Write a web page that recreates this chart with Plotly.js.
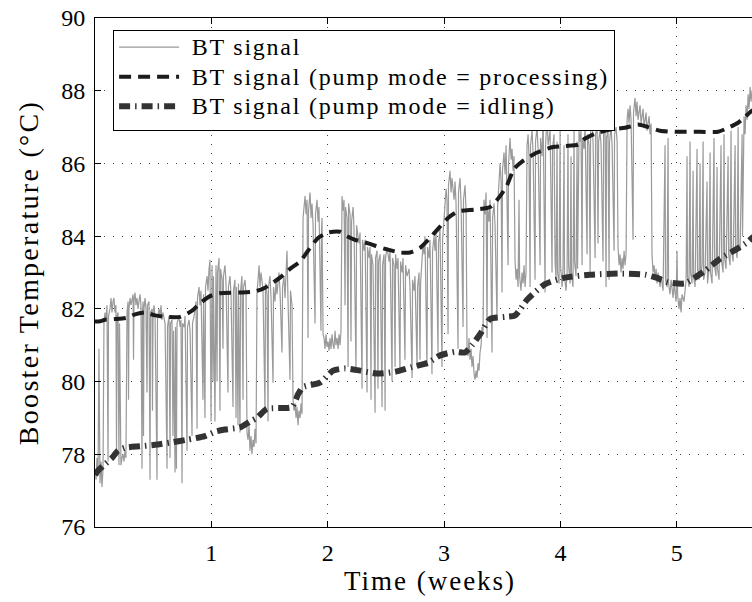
<!DOCTYPE html>
<html>
<head>
<meta charset="utf-8">
<script src="https://cdn.plot.ly/plotly-3.0.1.min.js"></script>
<style>
html, body { margin:0; padding:0; overflow:hidden; background:#fff; }
#chart { width:765px; height:602px; }
.legendtext { font-size: 24px !important; letter-spacing: 1.75px; transform: translateY(-4px); }
.legend .layers { transform: translateY(-4px); }
.xtitle { letter-spacing: 2px; }
.ytitle { letter-spacing: 2.3px; }
</style>
</head>
<body>
<div id="chart"></div>
<script>
// ---- Data (time in weeks, temperature in °C) ----
const seriesNames = ['\u00a0BT signal', '\u00a0BT signal (pump mode = processing)', '\u00a0BT signal (pump mode = idling)'];
const xTickVals = [1, 2, 3, 4, 5, 6];
const yTickVals = [76, 78, 80, 82, 84, 86, 88, 90];

// Raw BT signal, split per week: [week, °C]
const signalWeek0 = [[0.000,77.6],[0.009,77.3],[0.017,77.9],[0.026,77.4],[0.034,80.9],[0.039,77.5],[0.043,77.2],[0.052,77.8],[0.060,77.1],[0.069,77.6],[0.077,81.6],[0.086,81.9],[0.095,81.7],[0.103,82.1],[0.112,77.8],[0.116,81.8],[0.129,82.0],[0.138,82.3],[0.146,81.9],[0.155,82.2],[0.163,82.3],[0.172,81.9],[0.180,82.1],[0.185,77.95],[0.189,81.8],[0.198,81.9],[0.206,77.7],[0.211,81.6],[0.223,77.7],[0.232,77.9],[0.241,78.0],[0.249,77.8],[0.258,78.1],[0.266,77.9],[0.275,81.9],
[0.284,82.2],[0.288,79.5],[0.292,82.0],[0.301,82.3],[0.309,82.1],[0.327,82.4],[0.331,80.6],[0.335,82.2],[0.344,82.45],[0.352,82.1],[0.361,82.3],[0.370,82.0],[0.378,82.2],[0.387,82.4],[0.395,82.1],[0.404,77.6],[0.408,81.9],[0.413,82.2],[0.417,78.5],[0.421,82.0],[0.430,82.3],[0.438,82.0],[0.447,79.7],[0.451,82.1],[0.464,82.2],[0.473,77.3],[0.477,81.9],[0.490,82.0],[0.494,79.2],[0.499,81.9],[0.507,82.1],[0.516,81.8],[0.533,77.3],[0.537,81.7],[0.550,82.0],[0.559,81.8],[0.567,82.1],[0.576,81.7],[0.584,81.9],
[0.602,81.6],[0.619,77.6],[0.623,81.5],[0.636,81.8],[0.645,77.9],[0.649,81.6],[0.662,81.7],[0.670,78.5],[0.675,81.4],[0.688,77.5],[0.692,81.5],[0.700,77.6],[0.705,81.6],[0.722,81.8],[0.731,81.5],[0.739,81.7],[0.748,77.2],[0.752,81.6],[0.765,81.5],[0.774,81.8],[0.791,78.1],[0.795,81.5],[0.808,81.7],[0.817,81.4],[0.834,78.5],[0.838,81.6],[0.851,81.8],
[0.868,82.2],[0.877,78.7],[0.881,82.3],[0.894,82.6],[0.902,82.1],[0.911,82.5],[0.928,79.5],[0.933,82.4],[0.945,79.0],[0.950,82.6],[0.963,82.9],[0.971,82.5],[0.980,83.1],[0.988,83.35]];

const signalWeek1 = [[0.997,78.9],[1.001,82.8],[1.006,83.2],[1.014,80.0],[1.018,82.9],[1.031,78.9],[1.036,82.7],
[1.040,83.2],[1.049,80.0],[1.053,83.0],[1.066,83.4],[1.074,79.2],[1.079,83.1],[1.092,82.8],[1.100,80.9],[1.104,82.9],[1.117,83.2],[1.126,82.7],[1.143,79.7],[1.147,82.6],[1.160,82.9],[1.169,82.4],[1.186,79.3],[1.190,82.5],[1.203,82.8],[1.212,79.0],[1.216,82.6],
[1.229,78.8],[1.233,82.7],[1.246,78.6],[1.251,82.5],[1.263,82.9],[1.272,79.5],[1.276,82.6],[1.289,82.8],[1.298,82.4],[1.306,78.6],[1.315,78.4],[1.324,78.8],[1.332,78.1],[1.341,78.5],[1.349,78.0],[1.358,78.4],[1.367,78.2],[1.375,78.7],[1.384,78.3],[1.392,82.4],
[1.401,82.9],[1.410,83.2],[1.418,82.6],[1.427,83.0],[1.444,82.5],[1.461,79.2],[1.465,82.7],[1.478,82.4],[1.487,78.9],[1.491,82.6],[1.504,82.9],[1.513,82.3],[1.530,79.97],[1.534,82.6],[1.547,82.2],[1.556,82.8],[1.564,82.4],[1.581,83.0],[1.590,82.5],[1.607,80.8],[1.612,82.6],[1.624,82.9],[1.633,82.3],[1.650,83.6],[1.659,82.2],[1.676,80.05],[1.680,82.5],[1.693,82.1],
[1.702,79.5],[1.710,79.2],[1.719,79.4],[1.728,79.0],[1.736,79.3],[1.745,78.8],[1.753,79.2],[1.762,79.0],[1.771,79.4],[1.779,79.1],[1.788,84.5],
[1.796,84.8],[1.805,85.1],[1.814,84.6],[1.822,85.0],[1.831,81.2],[1.835,84.7],[1.848,85.2],[1.857,84.5],[1.865,84.9],[1.874,84.3],[1.891,81.6],[1.895,84.6],[1.908,85.0],[1.917,84.4],[1.925,84.8],[1.942,81.4],[1.947,84.2],[1.951,84.5],[1.960,81.3],
[1.968,81.2],[1.977,80.9],[1.985,81.3],[1.994,80.95]];

const signalWeek2 = [[2.003,81.1],[2.011,80.85],[2.020,81.2],[2.028,80.9],[2.037,81.3],[2.046,81.0],[2.054,80.9],[2.063,81.4],[2.071,81.0],[2.080,81.2],[2.089,80.9],[2.097,81.3],[2.106,81.0],[2.114,81.4],[2.123,85.1],
[2.132,84.7],[2.140,85.0],[2.149,82.1],[2.153,84.8],[2.166,84.5],[2.175,80.4],[2.179,84.9],[2.192,84.6],[2.200,81.1],[2.205,84.4],[2.218,84.8],[2.226,84.2],[2.243,80.3],[2.248,84.3],[2.260,84.0],[2.269,83.8],[2.278,84.1],[2.295,79.8],[2.299,83.9],[2.312,83.6],[2.321,83.9],[2.338,79.7],[2.342,83.7],
[2.355,83.4],[2.364,83.7],[2.372,79.5],[2.376,83.5],[2.389,83.2],[2.407,79.14],[2.411,83.4],[2.424,83.6],[2.432,79.8],[2.437,83.3],[2.450,83.5],[2.467,79.3],[2.471,83.2],[2.484,83.5],[2.493,79.2],[2.497,83.4],[2.510,83.7],[2.527,83.3],[2.536,83.6],[2.553,80.0],[2.557,83.4],[2.570,83.2],[2.579,80.4],[2.583,83.5],[2.596,83.1],[2.604,83.4],[2.621,80.25],[2.626,83.3],[2.639,83.0],[2.647,83.4],[2.664,80.6],[2.669,83.2],[2.682,82.9],
[2.699,83.1],[2.707,82.6],[2.725,80.1],[2.729,82.8],[2.742,82.5],[2.750,82.9],[2.768,80.4],[2.772,82.6],[2.785,83.0],[2.793,80.6],[2.798,82.7],[2.810,83.3],
[2.819,83.8],[2.828,83.5],[2.836,84.0],[2.853,80.4],[2.858,83.7],[2.871,83.4],[2.879,83.9],[2.896,80.2],[2.901,83.6],[2.914,84.0],[2.922,83.6],[2.931,84.1],[2.948,80.8],[2.952,83.8],[2.965,84.2],[2.982,80.4],[2.987,83.9]];

const signalWeek3 = [[3.000,84.5],[3.017,85.3],[3.025,85.0],[3.034,81.3],[3.038,85.4],[3.051,85.8],[3.060,85.2],[3.068,85.6],[3.086,85.0],[3.094,85.5],[3.103,84.9],[3.120,80.9],[3.124,85.2],[3.137,85.6],[3.146,84.9],[3.163,81.5],[3.167,85.0],[3.180,85.4],[3.189,84.7],
[3.197,81.0],[3.206,80.7],[3.214,81.2],[3.223,80.6],[3.232,80.9],[3.240,80.4],[3.249,80.7],[3.258,80.2],[3.266,80.05],[3.275,80.3],[3.283,80.1],[3.292,80.5],[3.300,80.3],[3.309,80.8],[3.318,81.0],[3.326,81.5],[3.335,81.3],[3.343,85.0],
[3.352,84.6],[3.361,85.2],[3.369,81.2],[3.374,84.8],[3.386,84.4],[3.395,85.0],[3.412,80.8],[3.417,84.5],[3.429,84.9],[3.438,84.3],[3.455,81.7],[3.460,84.8],
[3.472,85.6],[3.481,86.0],[3.490,85.5],[3.498,82.45],[3.502,85.8],[3.515,86.3],[3.524,85.7],[3.533,86.5],[3.550,83.2],[3.554,86.0],[3.567,86.7],[3.576,86.1],[3.584,86.4],[3.593,85.8],[3.601,86.2],
[3.610,83.3],[3.619,82.8],[3.627,83.1],[3.636,82.6],[3.644,85.0],[3.649,82.9],[3.661,82.5],[3.670,83.0],[3.679,82.7],[3.687,83.2],[3.696,82.6],[3.704,83.0],[3.713,86.5],
[3.722,86.8],[3.730,86.2],[3.739,82.6],[3.743,86.5],[3.756,86.9],[3.765,86.3],[3.782,82.8],[3.786,86.6],[3.799,87.0],[3.808,86.4],[3.825,83.2],[3.829,86.7],[3.842,86.2],[3.851,87.3],[3.868,82.45],[3.872,86.5],[3.885,87.3],[3.894,86.5],[3.911,86.9],[3.928,83.0],[3.932,86.4],[3.945,86.8],
[3.954,83.3],[3.962,82.8],[3.971,86.6],[3.975,83.0],[3.988,82.7],[3.997,86.9]];

const signalWeek4 = [[4.001,83.2],[4.014,82.6],[4.022,83.1],[4.031,86.5],[4.035,82.9],[4.048,82.5],[4.057,83.0],[4.065,86.8],[4.070,83.2],[4.083,82.7],[4.091,86.2],[4.095,83.0],[4.108,82.6],[4.117,86.9],[4.121,83.3],[4.134,82.9],[4.143,86.6],[4.147,83.1],[4.160,86.9],
[4.169,86.6],[4.177,86.9],[4.186,83.2],[4.190,86.7],[4.203,86.4],[4.212,87.0],[4.229,83.5],[4.233,86.8],[4.246,86.5],[4.255,83.0],[4.259,86.9],[4.272,87.1],[4.280,86.6],[4.298,83.4],[4.302,86.8],[4.315,87.0],[4.323,83.8],[4.328,86.6],[4.340,86.9],[4.349,86.5],[4.366,83.3],[4.371,86.8],[4.383,87.1],[4.392,82.6],[4.396,86.7],[4.409,86.9],[4.418,82.8],[4.422,86.6],[4.435,87.0],[4.444,86.5],[4.461,83.6],[4.465,86.8],[4.478,87.0],[4.487,86.6],
[4.495,83.7],[4.504,83.2],[4.512,83.5],[4.521,83.0],[4.530,83.4],[4.538,83.1],[4.547,83.6],[4.555,83.2],[4.564,83.5],[4.573,87.2],
[4.581,87.5],[4.590,87.1],[4.598,87.6],[4.607,87.2],[4.624,83.9],[4.628,87.4],[4.641,87.8],[4.650,87.3],[4.658,87.7],[4.667,87.2],[4.684,87.6],[4.693,87.1],[4.710,87.5],[4.719,87.0],[4.736,87.4],[4.744,86.9],[4.762,87.3],[4.770,86.8],[4.779,87.1],[4.787,83.5],
[4.796,83.0],[4.805,83.2],[4.813,82.8],[4.822,83.1],[4.830,82.7],[4.839,83.0],[4.856,82.6],[4.865,82.9],[4.882,82.5],[4.899,86.5],[4.903,82.8],[4.916,82.6],[4.925,86.7],[4.929,82.7],[4.942,82.4],[4.951,82.8],[4.968,82.3],[4.976,82.7],[4.994,82.2]];

const signalWeek5 = [[5.002,83.6],[5.007,82.4],[5.019,82.0],[5.028,82.3],[5.037,81.9],[5.045,82.4],[5.062,82.2],[5.071,82.6],
[5.080,82.8],[5.088,86.2],[5.092,82.9],[5.105,82.6],[5.114,86.6],[5.118,83.0],[5.131,82.7],[5.140,85.8],[5.144,82.9],[5.157,82.6],[5.174,86.4],[5.178,83.1],[5.191,82.8],[5.200,86.0],[5.204,82.9],[5.217,83.2],[5.226,86.6],[5.230,82.8],[5.243,83.0],[5.260,85.5],[5.264,82.7],[5.277,83.1],[5.286,86.3],[5.290,83.0],[5.303,82.7],[5.320,86.7],[5.324,83.2],[5.337,82.9],[5.346,85.9],[5.350,83.1],[5.363,82.8],[5.380,86.5],[5.385,83.3],[5.398,83.0],[5.406,86.8],[5.411,83.4],[5.423,83.1],[5.441,86.2],[5.445,83.5],[5.458,83.2],[5.466,86.9],[5.471,83.6],[5.484,83.3],[5.501,86.5],[5.505,83.7],[5.518,83.4],[5.527,87.0],[5.531,83.8],[5.544,83.6],[5.561,86.8],[5.565,84.0],[5.578,87.3],[5.587,86.8],[5.595,87.6],[5.604,87.2],[5.613,87.9],[5.621,87.5],[5.630,88.1],[5.638,87.7],[5.647,88.0],[5.700,88.2],[5.760,88.3]];

// Smoothed signal, pump mode = processing
const procWeeks = [0, 0.043, 0.086, 0.172, 0.284, 0.344, 0.430, 0.516, 0.602, 0.731, 0.834, 0.902, 0.988, 1.074, 1.246, 1.375, 1.461, 1.590, 1.676, 1.762, 1.831, 1.917, 2.003, 2.106, 2.166, 2.235, 2.347, 2.493, 2.621, 2.707, 2.793, 2.879, 2.948, 3.034, 3.120, 3.266, 3.395, 3.481, 3.541, 3.601, 3.670, 3.799, 3.937, 4.040, 4.152, 4.195, 4.298, 4.426, 4.555, 4.667, 4.753, 4.856, 4.985, 5.200, 5.355, 5.441, 5.527, 5.587, 5.647, 5.760];
const procTemp = [81.65, 81.66, 81.70, 81.72, 81.76, 81.85, 81.90, 81.82, 81.78, 81.78, 81.95, 82.15, 82.35, 82.43, 82.45, 82.48, 82.58, 82.86, 83.1, 83.3, 83.6, 83.95, 84.1, 84.12, 84.0, 83.9, 83.8, 83.65, 83.55, 83.55, 83.68, 83.95, 84.2, 84.5, 84.68, 84.73, 84.8, 85.1, 85.4, 85.85, 86.05, 86.3, 86.45, 86.48, 86.52, 86.65, 86.82, 86.93, 86.98, 87.07, 87.0, 86.9, 86.87, 86.87, 86.87, 86.98, 87.12, 87.28, 87.45, 87.62];

// Smoothed signal, pump mode = idling
const idleWeeks = [0, 0.026, 0.069, 0.146, 0.198, 0.258, 0.387, 0.516, 0.645, 0.791, 0.945, 1.031, 1.117, 1.246, 1.332, 1.392, 1.478, 1.693, 1.745, 1.788, 1.934, 2.046, 2.149, 2.278, 2.424, 2.579, 2.725, 2.862, 2.965, 3.094, 3.180, 3.240, 3.309, 3.395, 3.524, 3.610, 3.713, 3.868, 4.040, 4.255, 4.512, 4.727, 4.830, 4.925, 5.071, 5.174, 5.243, 5.372, 5.518, 5.613, 5.647, 5.760];
const idleTemp = [77.44, 77.55, 77.68, 77.9, 78.1, 78.18, 78.22, 78.26, 78.32, 78.4, 78.5, 78.62, 78.68, 78.74, 78.9, 79.0, 79.25, 79.3, 79.65, 79.85, 79.97, 80.3, 80.36, 80.3, 80.22, 80.27, 80.4, 80.52, 80.72, 80.82, 80.8, 81.0, 81.3, 81.72, 81.78, 81.82, 82.25, 82.68, 82.86, 82.94, 82.97, 82.94, 82.85, 82.73, 82.70, 82.9, 83.05, 83.38, 83.65, 83.85, 83.95, 84.2];

// ---- Build traces ----
const signal = [].concat(signalWeek0, signalWeek1, signalWeek2, signalWeek3, signalWeek4, signalWeek5);
const FONT = '"Liberation Serif", "DejaVu Serif", serif';

const traces = [
  { x: signal.map(p => p[0]), y: signal.map(p => p[1]), name: seriesNames[0], type: 'scatter', mode: 'lines',
    line: { color: '#9a9a9a', width: 1.2 } },
  { x: procWeeks, y: procTemp, name: seriesNames[1], type: 'scatter', mode: 'lines',
    line: { color: '#1c1c1c', width: 4, dash: '12px,7px', shape: 'spline', smoothing: 0.6 } },
  { x: idleWeeks, y: idleTemp, name: seriesNames[2], type: 'scatter', mode: 'lines',
    line: { color: '#333333', width: 6, dash: '11px,5px,1.5px,5px', shape: 'spline', smoothing: 0.6 } }
];

const axisCommon = {
  ticks: 'inside', ticklen: 6, tickwidth: 1, tickcolor: '#000',
  showline: true, linecolor: '#000', linewidth: 1, mirror: 'ticks',
  showgrid: true, gridcolor: '#444', gridwidth: 1, griddash: '1px,8px',
  zeroline: false, tickfont: { family: FONT, size: 24, color: '#000' }
};

const layout = {
  width: 765, height: 602,
  margin: { l: 95, r: 0, t: 18, b: 75 },
  paper_bgcolor: '#fff', plot_bgcolor: '#fff',
  font: { family: FONT, color: '#000', size: 22 },
  showlegend: true,
  legend: {
    x: 0.027, y: 0.976, xanchor: 'left', yanchor: 'top',
    bgcolor: '#fff', bordercolor: '#000', borderwidth: 1,
    font: { family: FONT, size: 20.5, color: '#000' },
    itemwidth: 60, tracegroupgap: 0
  },
  xaxis: Object.assign({}, axisCommon, {
    range: [0, 5.758], tickvals: xTickVals, ticklabelstandoff: 4,
    title: { text: 'Time (weeks)', font: { family: FONT, size: 27 }, standoff: 6 }
  }),
  yaxis: Object.assign({}, axisCommon, {
    range: [76, 90], tickvals: yTickVals, ticklabelstandoff: 4,
    title: { text: 'Booster Temperature (°C)', font: { family: FONT, size: 28 }, standoff: 14 }
  })
};

Plotly.newPlot('chart', traces, layout, { displayModeBar: false, staticPlot: true });
</script>
</body>
</html>
